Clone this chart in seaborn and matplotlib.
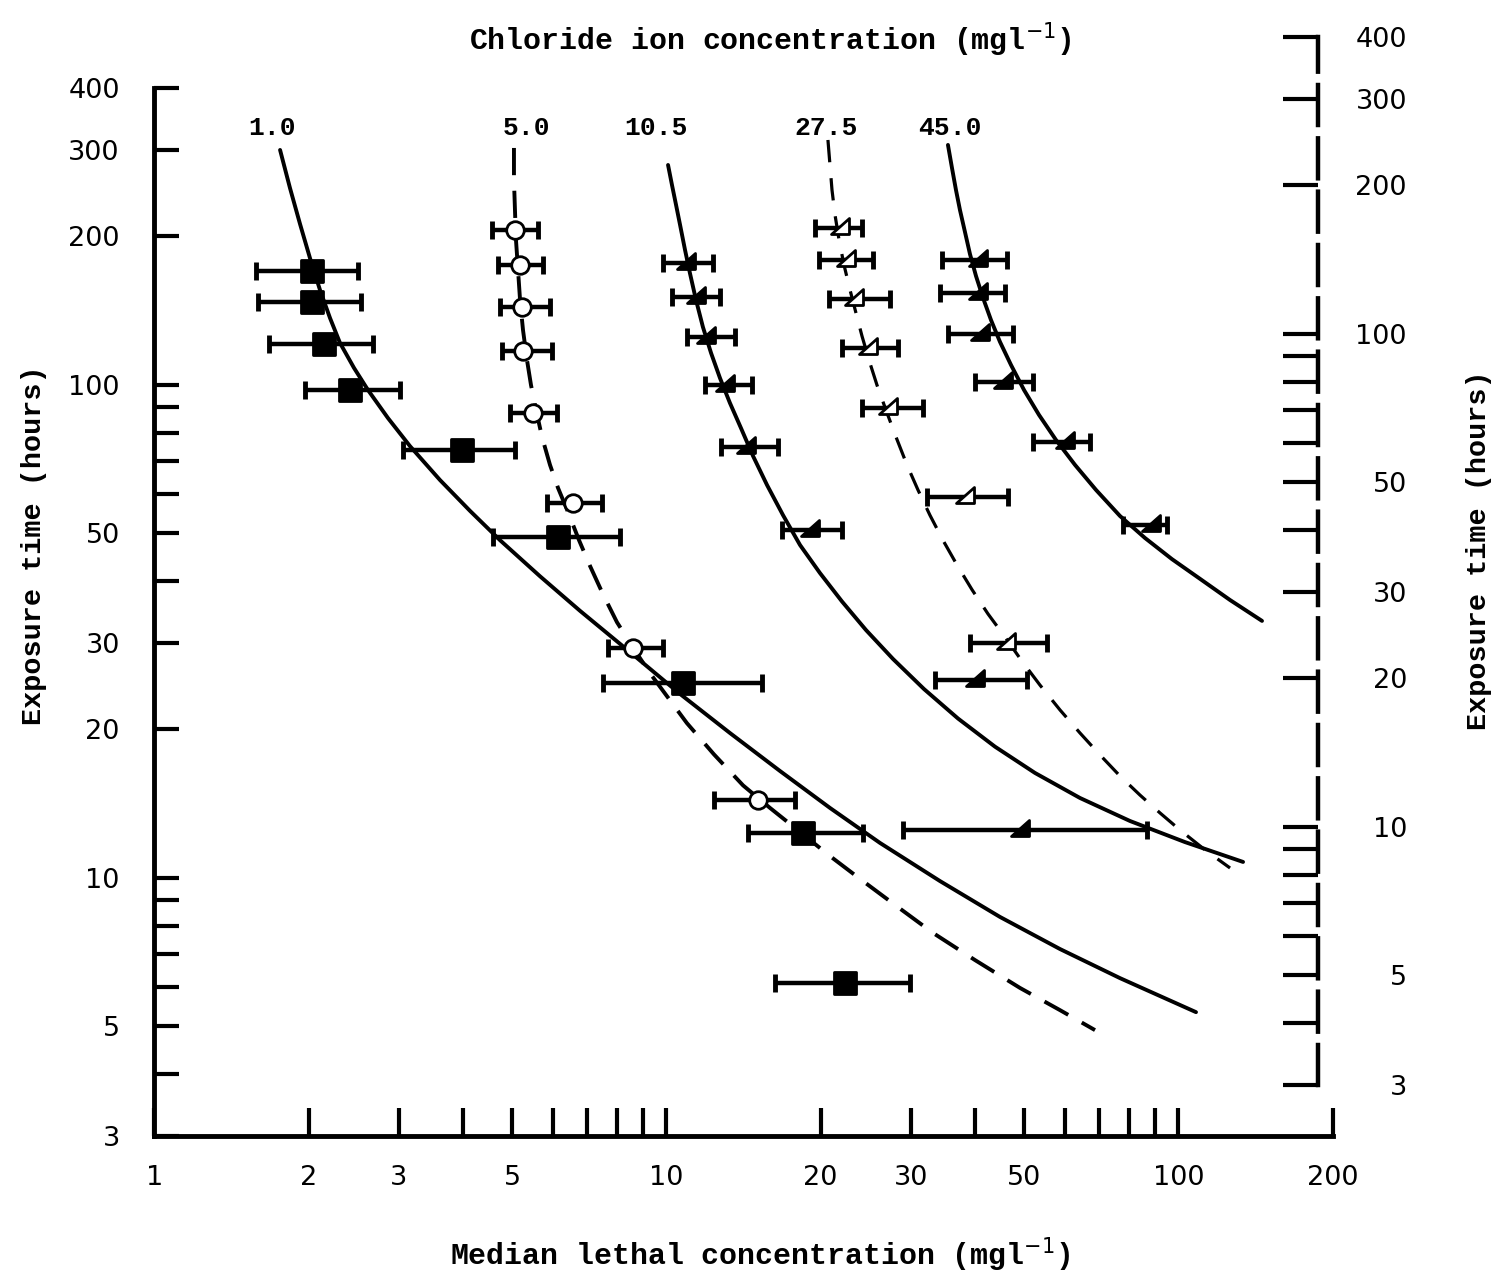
import numpy as np
import matplotlib
matplotlib.use("Agg")
import matplotlib.pyplot as plt
from matplotlib.ticker import FixedLocator, FixedFormatter, NullLocator
from matplotlib.markers import MarkerStyle
from matplotlib.path import Path
import seaborn as sns

# ---------------- data ----------------
chloride_labels = ["1.0", "5.0", "10.5", "27.5", "45.0"]
label_x = [1.70, 5.34, 9.53, 20.5, 35.8]
label_y = [332, 332, 332, 332, 332]

# chloride 1.0 mg/l
lc_1 = [2.03, 2.03, 2.14, 2.41, 3.98, 6.14, 10.77, 18.5, 22.3]
lo_1 = [1.58, 1.59, 1.67, 1.97, 3.06, 4.58, 7.52, 14.4, 16.3]
hi_1 = [2.50, 2.53, 2.67, 3.02, 5.06, 8.11, 15.4, 24.2, 29.9]
t_1 = [170, 147, 121, 97.6, 73.8, 49.1, 24.8, 12.3, 6.12]

# chloride 5.0 mg/l
lc_5 = [5.06, 5.18, 5.22, 5.25, 5.49, 6.57, 8.60, 15.1]
lo_5 = [4.56, 4.69, 4.73, 4.77, 4.95, 5.83, 7.69, 12.4]
hi_5 = [5.62, 5.74, 5.92, 5.97, 6.10, 7.47, 9.84, 17.8]
t_5 = [206, 175, 144, 117, 87.5, 57.5, 29.2, 14.4]

# chloride 10.5 mg/l
lc_10 = [11.0, 11.5, 12.05, 13.1, 14.4, 19.2, 40.4, 49.5]
lo_10 = [9.84, 10.25, 10.97, 11.9, 12.8, 16.8, 33.4, 29.0]
hi_10 = [12.3, 12.7, 13.6, 14.7, 16.5, 22.0, 50.6, 86.8]
t_10 = [177, 151, 125, 99.9, 74.8, 50.7, 25.2, 12.5]

# chloride 27.5 mg/l
lc_27 = [22.0, 22.6, 23.5, 25.0, 27.3, 38.6, 46.5]
lo_27 = [19.5, 19.9, 20.8, 22.0, 24.1, 32.2, 39.2]
hi_27 = [24.1, 25.3, 27.3, 28.3, 31.7, 46.5, 55.4]
t_27 = [208, 179, 149, 119, 89.7, 59.3, 29.9]

# chloride 45.0 mg/l
lc_45 = [41.0, 41.0, 41.3, 45.8, 60.5, 89.2]
lo_45 = [34.5, 34.2, 35.5, 40.0, 52.0, 77.9]
hi_45 = [46.2, 45.8, 47.5, 52.0, 67.2, 95.0]
t_45 = [179, 153.5, 127, 101.5, 76.7, 51.9]

# fitted toxicity curves
c1_x = [1.759, 1.839, 1.924, 2.012, 2.105, 2.202, 2.303, 2.453, 2.612, 2.858, 3.155, 3.611,
        4.133, 4.730, 5.661, 6.778, 8.486, 10.63, 13.30, 16.66, 20.86, 26.12, 34.21, 44.81,
        58.70, 76.86, 108.2]
c1_y = [299.5, 250.8, 212.0, 180.8, 155.7, 136.6, 121.6, 108.2, 97.6, 85.6, 75.1, 64.1,
        55.5, 48.4, 40.9, 34.8, 28.7, 23.6, 19.67, 16.47, 13.86, 11.77, 9.85, 8.33,
        7.17, 6.26, 5.34]
c5_x = [5.036, 5.036, 5.059, 5.082, 5.129, 5.176, 5.245, 5.340, 5.437, 5.562, 5.713, 5.922,
        6.139, 6.422, 6.748, 7.091, 7.516, 8.003, 8.603, 9.286, 10.07, 10.96, 12.38, 14.11,
        15.93, 18.23, 20.86, 23.88, 27.95, 33.16, 40.05, 49.02, 58.70, 68.70]
c5_y = [302.3, 260.3, 226.2, 196.7, 171.0, 148.6, 129.2, 112.3, 99.9, 88.9, 78.4, 68.8,
        61.8, 55.2, 48.4, 42.9, 37.6, 33.0, 29.3, 26.0, 23.2, 20.6, 17.8, 15.4,
        13.86, 12.39, 11.07, 9.95, 8.81, 7.73, 6.81, 5.98, 5.39, 4.91]
c10_x = [10.07, 10.25, 10.44, 10.63, 10.87, 11.11, 11.42, 11.78, 12.22, 12.72, 13.30, 13.98,
         14.76, 15.72, 16.89, 18.23, 19.94, 22.02, 24.53, 27.70, 31.84, 37.11, 43.82, 52.45,
         64.21, 80.41, 102.9, 133.7]
c10_y = [279.2, 254.3, 231.6, 211.0, 187.7, 168.6, 148.6, 131.0, 116.0, 103.2, 91.9, 81.7,
         71.7, 62.6, 54.4, 47.33, 41.52, 36.35, 31.81, 27.79, 24.15, 21.04, 18.45, 16.32,
         14.52, 13.04, 11.82, 10.77]
c27_x = [20.67, 20.86, 21.05, 21.34, 21.73, 22.22, 22.83, 23.45, 24.09, 24.86, 25.77, 26.83,
         28.07, 29.49, 30.99, 32.70, 34.67, 36.94, 39.52, 42.46, 45.83, 49.47, 53.64, 58.70,
         64.21, 70.27, 76.86, 84.09, 92.02, 100.7, 112.7, 126.1]
c27_y = [313.8, 279.2, 248.5, 221.0, 196.7, 175.0, 155.7, 139.8, 125.6, 112.3, 99.9, 88.9,
         78.4, 68.8, 61.2, 54.4, 48.4, 43.1, 38.4, 34.3, 30.8, 27.5, 24.6, 21.9,
         19.67, 17.75, 16.09, 14.72, 13.54, 12.50, 11.39, 10.47]
c45_x = [35.46, 36.11, 36.76, 37.43, 38.28, 39.15, 40.23, 41.52, 43.04, 44.81, 47.09, 49.93,
         53.40, 57.64, 62.79, 69.02, 76.86, 86.02, 97.12, 110.2, 126.1, 145.6]
c45_y = [306.6, 275.3, 248.5, 226.2, 204.2, 184.2, 166.2, 150.1, 135.3, 122.2, 109.7, 97.6,
         86.9, 77.3, 68.8, 61.2, 54.2, 48.9, 44.3, 40.4, 36.6, 33.2]

x_ticks = [1, 2, 3, 4, 5, 6, 7, 8, 9, 10, 20, 30, 40, 50, 60, 70, 80, 90, 100, 200]
x_ticklabels = ["1", "2", "3", "", "5", "", "", "", "", "10", "20", "30", "", "50", "", "", "", "", "100", "200"]
y_ticks = [3, 4, 5, 6, 7, 8, 9, 10, 20, 30, 40, 50, 60, 70, 80, 90, 100, 200, 300, 400]
y_ticklabels = ["3", "", "5", "", "", "", "", "10", "20", "30", "", "50", "", "", "", "", "100", "200", "300", "400"]

# ---------------- style ----------------
sns.set_theme(style="white")
plt.rcParams["font.family"] = ["DejaVu Sans"]
plt.rcParams["axes.linewidth"] = 3.5
plt.rcParams["axes.edgecolor"] = "black"
plt.rcParams["text.color"] = "black"
plt.rcParams["axes.labelcolor"] = "black"
plt.rcParams["xtick.color"] = "black"
plt.rcParams["ytick.color"] = "black"

fig = plt.figure(figsize=(15.02, 12.75), dpi=100)
fig.patch.set_facecolor("white")
ax = fig.add_axes([0.10286, 0.10933, 0.78436, 0.82165])
ax2 = fig.add_axes([0.10286, 0.14933, 0.77463, 0.82165])
ax2.set_facecolor("none")

ax.set_xscale("log")
ax.set_yscale("log")

tri = MarkerStyle(Path([(-1.0, -0.55), (0.65, -0.55), (0.65, 0.9), (-1.0, -0.55)], closed=True))

series = [
    (lc_1, lo_1, hi_1, t_1, c1_x, c1_y, "-", 2.8, MarkerStyle("s"), 230, "black"),
    (lc_5, lo_5, hi_5, t_5, c5_x, c5_y, (0, (7, 4)), 2.8, MarkerStyle("o"), 160, "white"),
    (lc_10, lo_10, hi_10, t_10, c10_x, c10_y, "-", 2.8, tri, 270, "black"),
    (lc_27, lo_27, hi_27, t_27, c27_x, c27_y, (0, (7, 5)), 2.3, tri, 270, "white"),
    (lc_45, lo_45, hi_45, t_45, c45_x, c45_y, "-", 2.8, tri, 270, "black"),
]

for lc, lo, hi, t, cx, cy, ls, lw, mk, s, fc in series:
    sns.lineplot(x=cx, y=cy, sort=False, estimator=None, color="black",
                 linewidth=lw, linestyle=ls, ax=ax, zorder=2)
    lc_a = np.asarray(lc)
    xerr = [lc_a - np.asarray(lo), np.asarray(hi) - lc_a]
    ax.errorbar(lc, t, xerr=xerr, fmt="none", ecolor="black", elinewidth=3.2,
                capsize=6.5, capthick=3.5, zorder=3)
    sns.scatterplot(x=lc, y=t, marker=mk, s=s, color=fc, edgecolor="black",
                    linewidth=2.0, ax=ax, zorder=4, legend=False)

for lab, lx, ly in zip(chloride_labels, label_x, label_y):
    ax.text(lx, ly, lab, ha="center", va="center", fontsize=19,
            family="Liberation Mono", fontweight="bold", color="black")

ax.set_xlim(1, 200)
ax.set_ylim(3, 400)
ax.xaxis.set_major_locator(FixedLocator(x_ticks))
ax.xaxis.set_major_formatter(FixedFormatter(x_ticklabels))
ax.xaxis.set_minor_locator(NullLocator())
ax.yaxis.set_major_locator(FixedLocator(y_ticks))
ax.yaxis.set_major_formatter(FixedFormatter(y_ticklabels))
ax.yaxis.set_minor_locator(NullLocator())
ax.tick_params(axis="x", direction="in", length=20, width=3, pad=21, labelsize=19.5,
               bottom=True, top=False)
ax.tick_params(axis="y", direction="in", length=18, width=3, pad=25, labelsize=19.5,
               left=True, right=False)
for side in ["top", "right"]:
    ax.spines[side].set_visible(False)
ax.grid(False)

ax.set_xlabel("Median lethal concentration (mgl$^{-1}$)", fontsize=21.5,
              family="Liberation Mono", fontweight="bold")
ax.xaxis.set_label_coords(0.514, -0.095)
ax.set_ylabel("Exposure time (hours)", fontsize=20.5,
              family="Liberation Mono", fontweight="bold")
ax.yaxis.set_label_coords(-0.091, 0.564)
ax.set_title("Chloride ion concentration (mgl$^{-1}$)", fontsize=21.5,
             family="Liberation Mono", fontweight="bold", x=0.5225, y=1.036, pad=0)

# right-hand exposure-time axis
ax2.set_yscale("log")
ax2.set_ylim(3, 400)
ax2.set_xticks([])
ax2.yaxis.set_label_position("right")
ax2.yaxis.tick_right()
ax2.yaxis.set_major_locator(FixedLocator(y_ticks))
ax2.yaxis.set_major_formatter(FixedFormatter(y_ticklabels))
ax2.yaxis.set_minor_locator(NullLocator())
ax2.tick_params(axis="y", which="both", left=False, labelleft=False, right=True,
                labelright=True, direction="in", length=25, width=3, pad=64,
                labelsize=19.5)
for lab in ax2.yaxis.get_ticklabels():
    lab.set_horizontalalignment("right")
for side in ["top", "left", "bottom"]:
    ax2.spines[side].set_visible(False)
ax2.spines["right"].set_linestyle((0, (9, 3)))
ax2.spines["right"].set_linewidth(3.2)
ax2.grid(False)
ax2.set_ylabel("Exposure time (hours)", fontsize=20.5, family="Liberation Mono",
               fontweight="bold")
ax2.yaxis.set_label_coords(1.127, 0.51)

fig.savefig("out.png", dpi=100, facecolor="white")
